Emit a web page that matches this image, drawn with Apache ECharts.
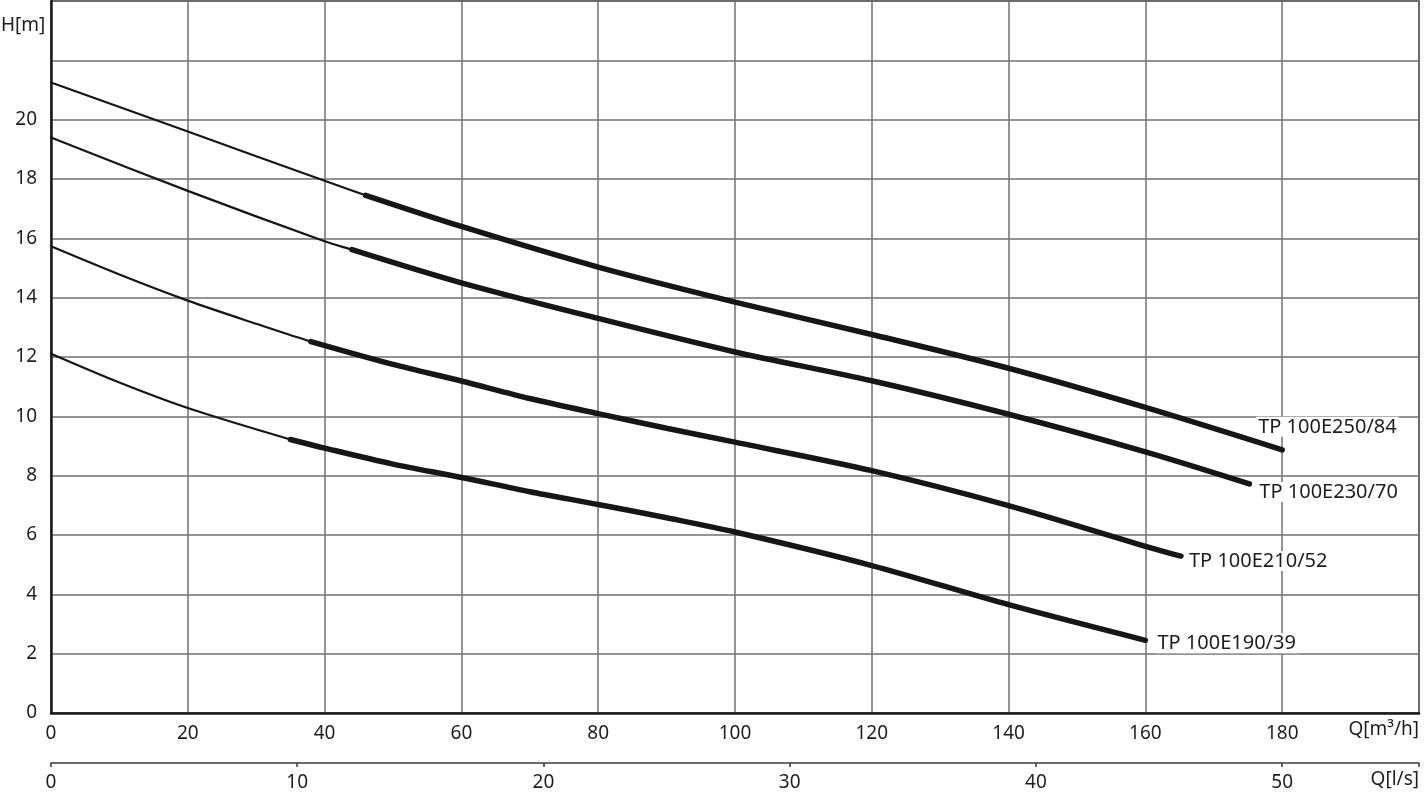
<!DOCTYPE html>
<html>
<head>
<meta charset="utf-8">
<script src="https://cdn.jsdelivr.net/npm/echarts@6/dist/echarts.min.js"></script>
<style>
html,body{margin:0;padding:0;background:#fff;}
#chart{width:1424px;height:797px;}
</style>
</head>
<body>
<div id="chart"></div>
<script>
// ---- data ----
const seriesNames = ['TP 100E250/84', 'TP 100E230/70', 'TP 100E210/52', 'TP 100E190/39'];

const thinQ1 = [0, 20, 40, 46];
const thinH1 = [21.25, 19.6, 17.94, 17.45];
const thickQ1 = [46, 60, 80, 100, 120, 140, 160, 180];
const thickH1 = [17.45, 16.4, 15.03, 13.85, 12.76, 11.62, 10.3, 8.87];

const thinQ2 = [0, 20, 40, 44];
const thinH2 = [19.4, 17.6, 15.9, 15.62];
const thickQ2 = [44, 60, 80, 100, 120, 140, 160, 175.2];
const thickH2 = [15.62, 14.5, 13.3, 12.17, 11.2, 10.07, 8.8, 7.72];

const thinQ3 = [0, 10, 20, 30, 38];
const thinH3 = [15.73, 14.78, 13.9, 13.12, 12.52];
const thickQ3 = [38, 50, 60, 70, 80, 90, 100, 120, 140, 160, 165.2];
const thickH3 = [12.52, 11.75, 11.19, 10.6, 10.09, 9.6, 9.13, 8.17, 6.99, 5.62, 5.29];

const thinQ4 = [0, 10, 20, 35];
const thinH4 = [12.11, 11.14, 10.28, 9.22];
const thickQ4 = [35, 40, 50, 60, 70, 80, 90, 100, 120, 140, 160];
const thickH4 = [9.22, 8.93, 8.39, 7.94, 7.46, 7.03, 6.58, 6.1, 4.97, 3.65, 2.45];

const xTicksM3h = [0, 20, 40, 60, 80, 100, 120, 140, 160, 180];
const xTicksLs = [0, 10, 20, 30, 40, 50];
const yTicks = [0, 2, 4, 6, 8, 10, 12, 14, 16, 18, 20];

const axisNameY = 'H[m]';
const axisNameX1 = 'Q[m³/h]';
const axisNameX2 = 'Q[l/s]';

// ---- build ----
function pairs(q, h) { return q.map((v, i) => [v, h[i]]); }

const FONT = 'Noto Sans';
const LINE = '#161616';
const TXT = '#1e1e1e';
const labelOffsets = [[-26, -23], [8, 8], [6, 5], [10, 3]];

const thinQ = [thinQ1, thinQ2, thinQ3, thinQ4], thinH = [thinH1, thinH2, thinH3, thinH4];
const thickQ = [thickQ1, thickQ2, thickQ3, thickQ4], thickH = [thickH1, thickH2, thickH3, thickH4];

const series = [];
for (let i = 0; i < 4; i++) {
  const full = pairs(thinQ[i], thinH[i]).concat(pairs(thickQ[i], thickH[i]).slice(1));
  series.push({
    type: 'line', name: seriesNames[i] + ' thin', data: full, xAxisIndex: 0,
    smooth: 0.3, symbol: 'none', silent: true,
    lineStyle: { color: LINE, width: 2.2, cap: 'round' }, z: 3
  });
  series.push({
    type: 'line', name: seriesNames[i], data: pairs(thickQ[i], thickH[i]), xAxisIndex: 0,
    smooth: 0.3, symbol: 'none', silent: true,
    lineStyle: { color: LINE, width: 5.5, cap: 'round' }, z: 4,
    endLabel: {
      show: true, formatter: seriesNames[i], fontFamily: FONT, fontSize: 20, lineHeight: 20,
      color: TXT, backgroundColor: '#fff', padding: [0, 2, 0, 2],
      distance: 0, offset: labelOffsets[i], align: 'left'
    }
  });
}

const chart = echarts.init(document.getElementById('chart'), null, { renderer: 'canvas' });
chart.setOption({
  animation: false,
  backgroundColor: '#fff',
  grid: { left: 51, right: 5, top: 1, bottom: 84, show: true, borderColor: '#2a2a2a', borderWidth: 1.5, backgroundColor: 'transparent' },
  xAxis: [
    {
      type: 'value', min: 0, max: 200, interval: 20, position: 'bottom',
      axisLine: { show: true, onZero: false, lineStyle: { color: '#1a1a1a', width: 2.5 } },
      axisTick: { show: false },
      splitLine: { show: true, lineStyle: { color: '#707070', width: 1.5 } },
      axisLabel: {
        margin: 11, fontFamily: FONT, fontSize: 19, color: TXT,
        formatter: v => xTicksM3h.includes(v) ? String(v) : ''
      }
    },
    {
      type: 'value', min: 0, max: 200 / 3.6, interval: 10, position: 'bottom', offset: 50,
      axisLine: { show: true, onZero: false, lineStyle: { color: '#3a3a3a', width: 1.5 } },
      axisTick: { show: true, length: 4, lineStyle: { color: '#3a3a3a', width: 1.5 } },
      splitLine: { show: false },
      axisLabel: {
        margin: 10, fontFamily: FONT, fontSize: 19, color: TXT,
        formatter: v => xTicksLs.includes(Math.round(v)) && Math.abs(v - Math.round(v)) < 1e-6 ? String(Math.round(v)) : ''
      }
    }
  ],
  yAxis: {
    type: 'value', min: 0, max: 24, interval: 2,
    axisLine: { show: true, lineStyle: { color: '#1a1a1a', width: 2.5 } },
    axisTick: { show: false },
    splitLine: { show: true, lineStyle: { color: '#707070', width: 1.5 } },
    axisLabel: {
      margin: 14, fontFamily: FONT, fontSize: 19, color: TXT,
      formatter: v => yTicks.includes(v) ? String(v) : ''
    }
  },
  graphic: [
    { type: 'text', left: 1, top: 16, style: { text: axisNameY, font: '19px "Noto Sans"', fill: TXT } },
    { type: 'text', right: 5, top: 720, style: { text: axisNameX1, font: '19px "Noto Sans"', fill: TXT } },
    { type: 'text', right: 5, top: 770, style: { text: axisNameX2, font: '19px "Noto Sans"', fill: TXT } }
  ],
  series: series
});
</script>
</body>
</html>
